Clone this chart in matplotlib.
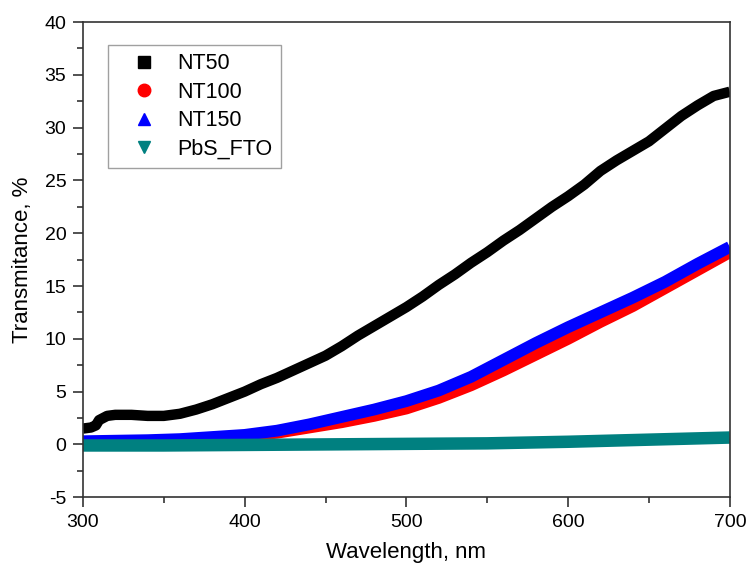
import matplotlib
matplotlib.use("Agg")
import matplotlib.pyplot as plt
from matplotlib.lines import Line2D
from matplotlib.ticker import MultipleLocator

plt.rcParams['font.family'] = ['Liberation Sans', 'DejaVu Sans']
plt.rcParams['axes.unicode_minus'] = False

# NT50 (black squares)
wl_nt50 = [300, 305, 308, 310, 315, 320, 330, 340, 350, 360, 370, 380, 390, 400,
           410, 420, 430, 440, 450, 460, 470, 480, 490, 500, 510, 520, 530, 540,
           550, 560, 570, 580, 590, 600, 610, 620, 630, 640, 650, 660, 670, 680,
           690, 700]
t_nt50 = [1.5, 1.6, 1.8, 2.3, 2.7, 2.8, 2.8, 2.7, 2.7, 2.9, 3.3, 3.8, 4.4, 5.0,
          5.7, 6.3, 7.0, 7.7, 8.4, 9.3, 10.3, 11.2, 12.1, 13.0, 14.0, 15.1, 16.1, 17.2,
          18.2, 19.3, 20.3, 21.4, 22.5, 23.5, 24.6, 25.9, 26.9, 27.8, 28.7, 29.9, 31.1, 32.1,
          33.0, 33.4]

# NT100 (red circles)
wl_nt100 = [300, 320, 340, 360, 380, 400, 420, 440, 460, 480, 500, 520, 540, 560,
            580, 600, 620, 640, 660, 680, 700]
t_nt100 = [0.15, 0.2, 0.25, 0.35, 0.55, 0.8, 1.1, 1.6, 2.1, 2.7, 3.4, 4.4, 5.6, 7.0,
           8.5, 10.0, 11.6, 13.1, 14.8, 16.5, 18.2]

# NT150 (blue triangles)
wl_nt150 = [300, 320, 340, 360, 380, 400, 420, 440, 460, 480, 500, 520, 540, 560,
            580, 600, 620, 640, 660, 680, 700]
t_nt150 = [0.3, 0.35, 0.4, 0.5, 0.7, 0.9, 1.3, 1.9, 2.6, 3.3, 4.1, 5.1, 6.4, 8.0,
           9.6, 11.1, 12.5, 13.9, 15.4, 17.1, 18.7]

# PbS_FTO (teal down triangles)
wl_pbs = [300, 350, 400, 450, 500, 550, 600, 650, 700]
t_pbs = [-0.1, -0.1, -0.05, 0.0, 0.05, 0.1, 0.25, 0.45, 0.65]

labels = ['NT50', 'NT100', 'NT150', 'PbS_FTO']
colors = ['black', 'red', 'blue', '#008080']
markers = ['s', 'o', '^', 'v']
widths = [7.5, 8.5, 8.5, 9]

fig = plt.figure(figsize=(7.47, 5.65), dpi=100)
ax = fig.add_axes([0.111, 0.120, 0.866, 0.841])

series = [(wl_nt50, t_nt50), (wl_nt100, t_nt100), (wl_nt150, t_nt150), (wl_pbs, t_pbs)]
for (x, y), c, w in zip(series, colors, widths):
    ax.plot(x, y, color=c, lw=w, solid_joinstyle='round', solid_capstyle='butt')

ax.set_xlim(300, 700)
ax.set_ylim(-5, 40)
ax.xaxis.set_major_locator(MultipleLocator(100))
ax.xaxis.set_minor_locator(MultipleLocator(50))
ax.yaxis.set_major_locator(MultipleLocator(5))
ax.yaxis.set_minor_locator(MultipleLocator(2.5))
ax.tick_params(which='major', direction='out', length=7, width=1.2, labelsize=14,
               color='#333333', pad=5)
ax.tick_params(which='minor', direction='out', length=4, width=1.2, color='#333333')
for s in ax.spines.values():
    s.set_color('#333333')
    s.set_linewidth(1.2)

ax.set_xlabel('Wavelength, nm', fontsize=16, labelpad=8)
ax.set_ylabel('Transmitance, %', fontsize=16, labelpad=8)

handles = [Line2D([], [], ls='none', marker=m, color=c, ms=9) for c, m in zip(colors, markers)]
leg = ax.legend(handles, labels, loc='upper left', bbox_to_anchor=(0.039, 0.952),
                borderaxespad=0, fontsize=15.5, frameon=True, fancybox=False,
                edgecolor='#888888', handlelength=2.5, handletextpad=0.3,
                labelspacing=0.34, borderpad=0.4)
leg.get_frame().set_linewidth(1.0)

fig.savefig('out.png', dpi=100)
